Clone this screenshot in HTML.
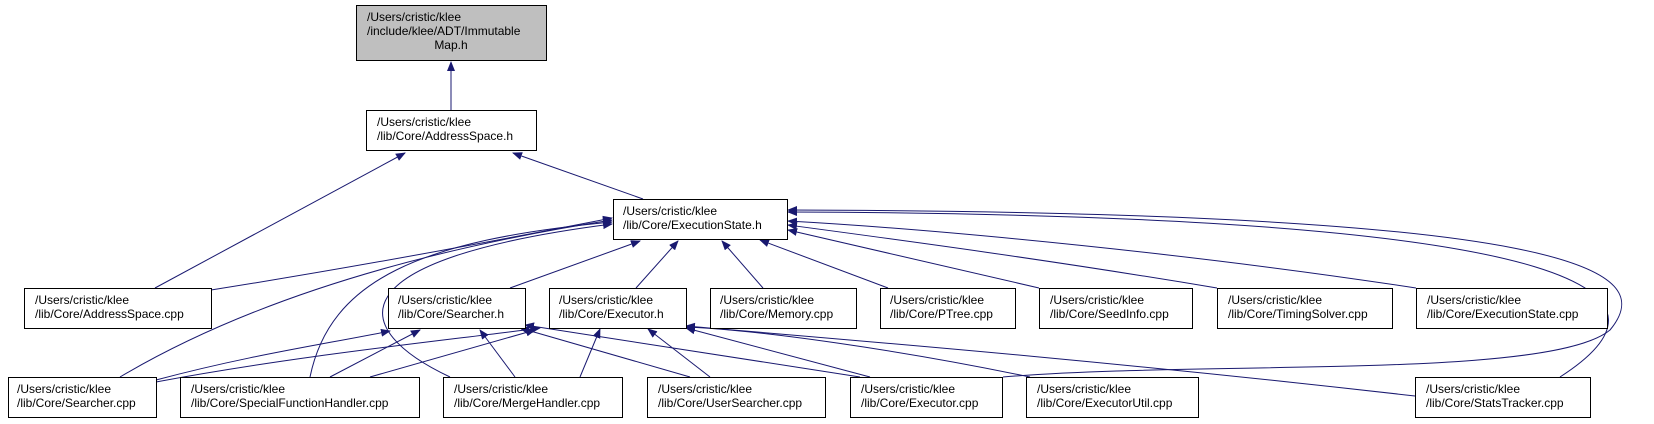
<!DOCTYPE html>
<html><head><meta charset="utf-8"><style>
html,body{margin:0;padding:0;background:#fff;}
svg{display:block;}
text{font-family:"Liberation Sans",sans-serif;font-size:12px;fill:#000;}
.b{fill:#fff;stroke:#000;stroke-width:1;}
.e{fill:none;stroke:#191970;stroke-width:1;}
</style></head><body>
<svg width="1654" height="424" viewBox="0 0 1654 424" xmlns="http://www.w3.org/2000/svg">
<defs><marker id="a" markerWidth="10" markerHeight="8" refX="9" refY="4" orient="auto" markerUnits="userSpaceOnUse"><path d="M0,0 L10,4 L0,8 z" fill="#191970"/></marker></defs>
<g class="e" marker-end="url(#a)">
<path d="M451,110 L451,62"/>
<path d="M155,288 L405,153"/>
<path d="M643,199 L513,153"/>
<!-- ES left side -->
<path d="M211,290 C350,268 500,240 612,218"/>
<path d="M120,377 C250,300 420,250 612,220"/>
<path d="M310,377 C330,280 420,240 612,222"/>
<path d="M450,377 C350,330 330,260 612,224"/>
<!-- ES bottom -->
<path d="M510,288 L640,241"/>
<path d="M636,288 L678,241"/>
<path d="M763,288 L722,241"/>
<path d="M888,288 L760,240"/>
<path d="M1039,288 L788,230"/>
<path d="M1217,288 C1050,260 900,240 788,225"/>
<path d="M1416,288 C1200,255 950,230 788,221"/>
<path d="M1003,377 C1200,360 1550,380 1610,330 C1660,270 1580,212 788,210"/>
<path d="M1560,377 C1680,300 1630,215 788,212"/>
<!-- Searcher.h children -->
<path d="M156,380 C250,355 320,345 390,331"/>
<path d="M330,377 L420,330"/>
<path d="M515,377 L480,330"/>
<path d="M690,377 L520,328"/>
<path d="M860,377 L525,325"/>
<!-- Executor.h children -->
<path d="M156,382 C300,355 450,340 540,328"/>
<path d="M370,377 L535,330"/>
<path d="M580,377 L600,329"/>
<path d="M710,377 L648,329"/>
<path d="M870,377 L686,328"/>
<path d="M1030,377 C900,350 760,330 686,327"/>
<path d="M1415,396 C1100,360 850,340 686,326"/>
</g>
<rect x="356.5" y="5.5" width="190" height="55" fill="#bfbfbf" stroke="#000"/>
<text x="367" y="21">/Users/cristic/klee</text>
<text x="367" y="35">/include/klee/ADT/Immutable</text>
<text x="451" y="49" text-anchor="middle">Map.h</text>
<rect class="b" x="366.5" y="110.5" width="170" height="40"/>
<text x="377" y="126">/Users/cristic/klee</text><text x="377" y="140">/lib/Core/AddressSpace.h</text>
<rect class="b" x="613.5" y="199.5" width="174" height="40"/>
<text x="623" y="215">/Users/cristic/klee</text><text x="623" y="229">/lib/Core/ExecutionState.h</text>
<!-- row 2 -->
<rect class="b" x="24.5" y="288.5" width="187" height="40"/>
<text x="35" y="304">/Users/cristic/klee</text><text x="35" y="318">/lib/Core/AddressSpace.cpp</text>
<rect class="b" x="388.5" y="288.5" width="137" height="40"/>
<text x="398" y="304">/Users/cristic/klee</text><text x="398" y="318">/lib/Core/Searcher.h</text>
<rect class="b" x="549.5" y="288.5" width="137" height="40"/>
<text x="559" y="304">/Users/cristic/klee</text><text x="559" y="318">/lib/Core/Executor.h</text>
<rect class="b" x="710.5" y="288.5" width="146" height="40"/>
<text x="720" y="304">/Users/cristic/klee</text><text x="720" y="318">/lib/Core/Memory.cpp</text>
<rect class="b" x="880.5" y="288.5" width="135" height="40"/>
<text x="890" y="304">/Users/cristic/klee</text><text x="890" y="318">/lib/Core/PTree.cpp</text>
<rect class="b" x="1039.5" y="288.5" width="153" height="40"/>
<text x="1050" y="304">/Users/cristic/klee</text><text x="1050" y="318">/lib/Core/SeedInfo.cpp</text>
<rect class="b" x="1217.5" y="288.5" width="175" height="40"/>
<text x="1228" y="304">/Users/cristic/klee</text><text x="1228" y="318">/lib/Core/TimingSolver.cpp</text>
<rect class="b" x="1416.5" y="288.5" width="191" height="40"/>
<text x="1427" y="304">/Users/cristic/klee</text><text x="1427" y="318">/lib/Core/ExecutionState.cpp</text>
<!-- row 3 -->
<rect class="b" x="8.5" y="377.5" width="148" height="40"/>
<text x="17" y="393">/Users/cristic/klee</text><text x="17" y="407">/lib/Core/Searcher.cpp</text>
<rect class="b" x="180.5" y="377.5" width="239" height="40"/>
<text x="191" y="393">/Users/cristic/klee</text><text x="191" y="407">/lib/Core/SpecialFunctionHandler.cpp</text>
<rect class="b" x="443.5" y="377.5" width="179" height="40"/>
<text x="454" y="393">/Users/cristic/klee</text><text x="454" y="407">/lib/Core/MergeHandler.cpp</text>
<rect class="b" x="647.5" y="377.5" width="178" height="40"/>
<text x="658" y="393">/Users/cristic/klee</text><text x="658" y="407">/lib/Core/UserSearcher.cpp</text>
<rect class="b" x="850.5" y="377.5" width="152" height="40"/>
<text x="861" y="393">/Users/cristic/klee</text><text x="861" y="407">/lib/Core/Executor.cpp</text>
<rect class="b" x="1026.5" y="377.5" width="172" height="40"/>
<text x="1037" y="393">/Users/cristic/klee</text><text x="1037" y="407">/lib/Core/ExecutorUtil.cpp</text>
<rect class="b" x="1415.5" y="377.5" width="175" height="40"/>
<text x="1426" y="393">/Users/cristic/klee</text><text x="1426" y="407">/lib/Core/StatsTracker.cpp</text>
</svg>
</body></html>
